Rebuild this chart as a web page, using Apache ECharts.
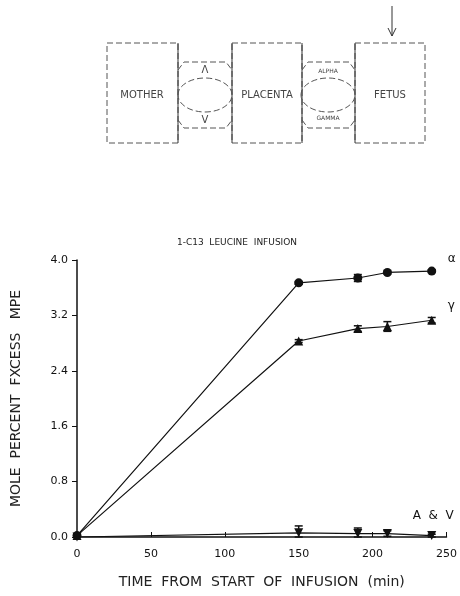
<!DOCTYPE html>
<html>
<head>
<meta charset="utf-8">
<script src="https://cdn.jsdelivr.net/npm/echarts@6/dist/echarts.min.js"></script>
<style>
  html, body { margin: 0; padding: 0; background: #fff; }
  #chart { width: 460px; height: 596px; }
</style>
</head>
<body>
<div id="chart"></div>
<script>
// sampling times (min)
const times = [0, 150, 190, 210, 240]
const alphaValues = [0.02, 3.67, 3.74, 3.82, 3.84]
const alphaErr = [0, 0.02, 0.05, 0.02, 0.02]
const gammaValues = [0.02, 2.83, 3.01, 3.04, 3.13]
const gammaErr = [0, 0.02, 0.04, 0.07, 0.04]
const avValues = [0.0, 0.06, 0.05, 0.05, 0.02]
const avErr = [0.03, 0.10, 0.08, 0.04, 0.02]
const yTicks = [0, 0.8, 1.6, 2.4, 3.2, 4.0]
const xTicks = [0, 50, 100, 150, 200, 250]

const ink = '#111'
const chart = echarts.init(document.getElementById('chart'))

const pairs = (vals) => times.map((t, i) => [t, vals[i]])
// lower whisker clipped at zero (hidden behind the axis in the original)
const errData = (vals, errs) => times.map((t, i) => [t, Math.max(0, vals[i] - errs[i]), vals[i] + errs[i]])

const errorSeries = (vals, errs) => ({
  type: 'custom',
  silent: true,
  data: errData(vals, errs),
  renderItem: (params, api) => {
    const lo = api.coord([api.value(0), api.value(1)])
    const hi = api.coord([api.value(0), api.value(2)])
    const w = 4
    const style = { stroke: ink, lineWidth: 1.5 }
    return {
      type: 'group',
      children: [
        { type: 'line', shape: { x1: lo[0], y1: lo[1], x2: hi[0], y2: hi[1] }, style },
        { type: 'line', shape: { x1: hi[0] - w, y1: hi[1], x2: hi[0] + w, y2: hi[1] }, style },
        { type: 'line', shape: { x1: lo[0] - w, y1: lo[1], x2: lo[0] + w, y2: lo[1] }, style }
      ]
    }
  },
  z: 3
})

const lineSeries = (name, vals, symbol, size, label, offset) => ({
  name,
  type: 'line',
  data: pairs(vals),
  symbol,
  symbolSize: size,
  itemStyle: { color: ink },
  lineStyle: { color: ink, width: 1.2 },
  endLabel: {
    show: true,
    formatter: label,
    color: ink,
    fontFamily: 'DejaVu Sans',
    fontSize: 12,
    offset
  },
  z: 4
})

const thin = { stroke: '#333', lineWidth: 1, fill: 'none' }
const dash = { stroke: '#555', lineWidth: 1, fill: 'none', lineDash: [6, 3] }
const smallText = (x, y, text, size) => ({
  type: 'text', x, y,
  style: { text, fill: '#444', font: size + 'px "DejaVu Sans"', textAlign: 'center', textVerticalAlign: 'middle' }
})

const option = {
  animation: false,
  backgroundColor: '#fff',
  title: {
    text: '1-C13  LEUCINE  INFUSION',
    left: 232,
    top: 233,
    textAlign: 'center',
    textStyle: { fontSize: 9, fontWeight: 'normal', color: '#222', fontFamily: 'DejaVu Sans' }
  },
  grid: { left: 77, right: 12, top: 260, bottom: 59 },
  xAxis: {
    type: 'value',
    min: 0, max: 250, interval: 50,
    name: 'TIME  FROM  START  OF  INFUSION  (min)',
    nameLocation: 'middle',
    nameGap: 38,
    nameTextStyle: { fontSize: 14, color: '#222', fontFamily: 'DejaVu Sans' },
    axisLine: { lineStyle: { color: ink, width: 1.5 } },
    axisTick: { inside: true, length: 5, lineStyle: { color: ink } },
    axisLabel: { color: ink, fontSize: 11, fontFamily: 'DejaVu Sans', margin: 12,
      formatter: v => xTicks.includes(v) ? String(v) : '' },
    splitLine: { show: false }
  },
  yAxis: {
    type: 'value',
    min: 0, max: 4.0, interval: 0.8,
    name: 'MOLE  PERCENT  FXCESS   MPE',
    nameLocation: 'middle',
    nameGap: 54,
    nameTextStyle: { fontSize: 14, color: '#222', fontFamily: 'DejaVu Sans' },
    axisLine: { lineStyle: { color: ink, width: 1.5 } },
    axisTick: { length: 5, lineStyle: { color: ink } },
    axisLabel: { color: ink, fontSize: 11, fontFamily: 'DejaVu Sans', margin: 9,
      formatter: v => yTicks.find(t => Math.abs(t - v) < 1e-6) !== undefined ? v.toFixed(1) : '' },
    splitLine: { show: false }
  },
  series: [
    errorSeries(alphaValues, alphaErr),
    errorSeries(gammaValues, gammaErr),
    errorSeries(avValues, avErr),
    lineSeries('alpha', alphaValues, 'circle', 9, 'α', [8, -12]),
    lineSeries('gamma', gammaValues, 'triangle', 9, 'γ', [8, -14]),
    lineSeries('av', avValues, 'path://M0,0 L10,0 L5,10 Z', 9, 'A  &  V', [-27, -20])
  ],
  graphic: [
    // arrow into fetus
    { type: 'line', shape: { x1: 392, y1: 6, x2: 392, y2: 36 }, style: thin },
    { type: 'polyline', shape: { points: [[388, 28], [392, 36], [396, 28]] }, style: thin },
    // compartments
    { type: 'polyline', shape: { points: [[107, 43], [178, 43], [178, 143], [107, 143], [107, 43]] }, style: dash },
    { type: 'polyline', shape: { points: [[232, 43], [302, 43], [302, 143], [232, 143], [232, 43]] }, style: dash },
    { type: 'polyline', shape: { points: [[355, 43], [425, 43], [425, 143], [355, 143], [355, 43]] }, style: dash },
    { type: 'line', shape: { x1: 178, y1: 43, x2: 178, y2: 143 }, style: thin },
    { type: 'line', shape: { x1: 232, y1: 43, x2: 232, y2: 143 }, style: thin },
    { type: 'line', shape: { x1: 302, y1: 43, x2: 302, y2: 143 }, style: thin },
    { type: 'line', shape: { x1: 355, y1: 43, x2: 355, y2: 143 }, style: thin },
    // circulation loops
    { type: 'ellipse', shape: { cx: 205, cy: 95, rx: 27, ry: 17 }, style: dash },
    { type: 'ellipse', shape: { cx: 328, cy: 95, rx: 27, ry: 17 }, style: dash },
    { type: 'polyline', shape: { points: [[178, 70], [184, 62], [226, 62], [232, 70]] }, style: dash },
    { type: 'polyline', shape: { points: [[178, 120], [184, 128], [226, 128], [232, 120]] }, style: dash },
    { type: 'polyline', shape: { points: [[302, 70], [308, 62], [349, 62], [355, 70]] }, style: dash },
    { type: 'polyline', shape: { points: [[302, 120], [308, 128], [349, 128], [355, 120]] }, style: dash },
    smallText(142, 95, 'MOTHER', 10),
    smallText(267, 95, 'PLACENTA', 10),
    smallText(390, 95, 'FETUS', 10),
    smallText(205, 70, 'Λ', 10),
    smallText(205, 120, 'V', 10),
    smallText(328, 71, 'ALPHA', 6),
    smallText(328, 118, 'GAMMA', 6)
  ]
}

chart.setOption(option)
</script>
</body>
</html>
